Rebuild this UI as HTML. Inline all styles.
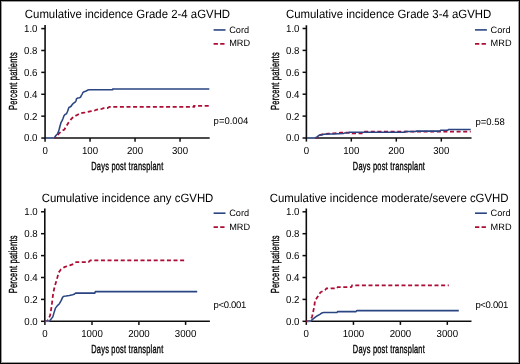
<!DOCTYPE html>
<html><head><meta charset="utf-8"><style>
html,body{margin:0;padding:0;background:#fff;}
body{width:520px;height:364px;overflow:hidden;}
svg{display:block;text-rendering:geometricPrecision;}
text{font-family:"Liberation Sans", sans-serif;fill:#000;}
</style></head><body>
<svg width="520" height="364" viewBox="0 0 520 364">
<defs><filter id="soft" x="-2%" y="-2%" width="104%" height="104%"><feGaussianBlur stdDeviation="0.25"/></filter></defs>
<rect x="0" y="0" width="520" height="364" fill="#fff"/>
<g filter="url(#soft)">
<text transform="translate(127.45,18.0) scale(0.95,1)" font-size="12" text-anchor="middle">Cumulative incidence Grade 2-4 aGVHD</text>
<line x1="41.27" y1="138.05" x2="45.07" y2="138.05" stroke="#111" stroke-width="1.5"/>
<text transform="translate(37.47,141.45) scale(0.95,1)" font-size="10.2" text-anchor="end">0.0</text>
<line x1="41.27" y1="116.16" x2="45.07" y2="116.16" stroke="#111" stroke-width="1.5"/>
<text transform="translate(37.47,119.56) scale(0.95,1)" font-size="10.2" text-anchor="end">0.2</text>
<line x1="41.27" y1="94.27" x2="45.07" y2="94.27" stroke="#111" stroke-width="1.5"/>
<text transform="translate(37.47,97.67) scale(0.95,1)" font-size="10.2" text-anchor="end">0.4</text>
<line x1="41.27" y1="72.38" x2="45.07" y2="72.38" stroke="#111" stroke-width="1.5"/>
<text transform="translate(37.47,75.78) scale(0.95,1)" font-size="10.2" text-anchor="end">0.6</text>
<line x1="41.27" y1="50.49" x2="45.07" y2="50.49" stroke="#111" stroke-width="1.5"/>
<text transform="translate(37.47,53.89) scale(0.95,1)" font-size="10.2" text-anchor="end">0.8</text>
<line x1="41.27" y1="28.60" x2="45.07" y2="28.60" stroke="#111" stroke-width="1.5"/>
<text transform="translate(37.47,32.00) scale(0.95,1)" font-size="10.2" text-anchor="end">1.0</text>
<line x1="45.07" y1="138.05" x2="45.07" y2="141.65" stroke="#111" stroke-width="1.5"/>
<text transform="translate(45.07,153.95) scale(0.95,1)" font-size="10.2" text-anchor="middle">0</text>
<line x1="90.05" y1="138.05" x2="90.05" y2="141.65" stroke="#111" stroke-width="1.5"/>
<text transform="translate(90.05,153.95) scale(0.95,1)" font-size="10.2" text-anchor="middle">100</text>
<line x1="135.05" y1="138.05" x2="135.05" y2="141.65" stroke="#111" stroke-width="1.5"/>
<text transform="translate(135.05,153.95) scale(0.95,1)" font-size="10.2" text-anchor="middle">200</text>
<line x1="180.05" y1="138.05" x2="180.05" y2="141.65" stroke="#111" stroke-width="1.5"/>
<text transform="translate(180.05,153.95) scale(0.95,1)" font-size="10.2" text-anchor="middle">300</text>
<path d="M45.07,25.00 V138.05 H209.70" fill="none" stroke="#111" stroke-width="1.6"/>
<text transform="translate(127.38,169.65) scale(0.636,1)" font-size="11.7" letter-spacing="0.35" text-anchor="middle" stroke="#000" stroke-width="0.35">Days post transplant</text>
<text transform="translate(16.90,81.05) rotate(-90) scale(0.645,1)" font-size="11.7" letter-spacing="0.35" text-anchor="middle" stroke="#000" stroke-width="0.35">Percent patients</text>
<polyline points="52.50,138.00 55.60,137.60 57.40,135.60 59.40,133.00 62.50,130.50 64.40,129.50 66.30,126.20 68.75,122.30 70.60,119.80 72.30,118.00 74.40,116.10 76.40,115.40 78.50,114.20 80.20,113.30 82.50,112.90 85.20,112.50 90.00,111.40 94.80,110.50 96.20,109.80 99.60,109.10 101.60,109.00 103.50,108.20 107.40,108.10 108.80,107.30 109.50,106.90 194.00,106.90 194.00,105.90 209.30,105.90" fill="none" stroke="#ad0a32" stroke-width="1.75" stroke-dasharray="4,2.6"/>
<polyline points="54.30,137.80 55.80,135.60 57.20,134.30 58.20,132.40 59.10,129.50 60.10,125.70 61.10,122.30 62.00,120.90 63.00,118.50 64.00,115.80 65.10,114.40 66.50,113.70 67.50,111.50 68.20,109.40 68.90,107.40 69.90,107.00 71.30,106.00 72.30,104.30 74.00,102.90 75.40,101.90 76.10,100.50 76.50,98.80 77.50,98.10 79.50,97.75 80.60,97.10 81.20,95.70 82.10,94.30 82.80,92.70 84.20,91.70 86.20,91.00 88.10,89.90 89.00,89.77 112.70,89.77 112.70,89.08 209.30,89.08" fill="none" stroke="#2a4582" stroke-width="1.55" stroke-linejoin="round"/>
<line x1="45.87" y1="138.05" x2="54.30" y2="138.05" stroke="#4f6ea6" stroke-width="1.5"/>
<line x1="213.60" y1="29.95" x2="225.50" y2="29.95" stroke="#2a4582" stroke-width="1.6"/>
<text x="229.20" y="33.15" font-size="9.2">Cord</text>
<line x1="213.60" y1="43.85" x2="224.60" y2="43.85" stroke="#ad0a32" stroke-width="1.7" stroke-dasharray="4.3,2.3"/>
<text x="229.20" y="46.45" font-size="9.2">MRD</text>
<text x="213.60" y="124.40" font-size="9.5">p=0.004</text>
<text transform="translate(388.6,18.0) scale(0.95,1)" font-size="12" text-anchor="middle">Cumulative incidence Grade 3-4 aGVHD</text>
<line x1="302.60" y1="138.00" x2="306.40" y2="138.00" stroke="#111" stroke-width="1.5"/>
<text transform="translate(299.50,141.40) scale(0.95,1)" font-size="10.2" text-anchor="end">0.0</text>
<line x1="302.60" y1="116.10" x2="306.40" y2="116.10" stroke="#111" stroke-width="1.5"/>
<text transform="translate(299.50,119.50) scale(0.95,1)" font-size="10.2" text-anchor="end">0.2</text>
<line x1="302.60" y1="94.20" x2="306.40" y2="94.20" stroke="#111" stroke-width="1.5"/>
<text transform="translate(299.50,97.60) scale(0.95,1)" font-size="10.2" text-anchor="end">0.4</text>
<line x1="302.60" y1="72.30" x2="306.40" y2="72.30" stroke="#111" stroke-width="1.5"/>
<text transform="translate(299.50,75.70) scale(0.95,1)" font-size="10.2" text-anchor="end">0.6</text>
<line x1="302.60" y1="50.40" x2="306.40" y2="50.40" stroke="#111" stroke-width="1.5"/>
<text transform="translate(299.50,53.80) scale(0.95,1)" font-size="10.2" text-anchor="end">0.8</text>
<line x1="302.60" y1="28.50" x2="306.40" y2="28.50" stroke="#111" stroke-width="1.5"/>
<text transform="translate(299.50,31.90) scale(0.95,1)" font-size="10.2" text-anchor="end">1.0</text>
<line x1="306.40" y1="138.00" x2="306.40" y2="141.60" stroke="#111" stroke-width="1.5"/>
<text transform="translate(306.40,153.90) scale(0.95,1)" font-size="10.2" text-anchor="middle">0</text>
<line x1="351.30" y1="138.00" x2="351.30" y2="141.60" stroke="#111" stroke-width="1.5"/>
<text transform="translate(351.30,153.90) scale(0.95,1)" font-size="10.2" text-anchor="middle">100</text>
<line x1="396.30" y1="138.00" x2="396.30" y2="141.60" stroke="#111" stroke-width="1.5"/>
<text transform="translate(396.30,153.90) scale(0.95,1)" font-size="10.2" text-anchor="middle">200</text>
<line x1="441.30" y1="138.00" x2="441.30" y2="141.60" stroke="#111" stroke-width="1.5"/>
<text transform="translate(441.30,153.90) scale(0.95,1)" font-size="10.2" text-anchor="middle">300</text>
<path d="M306.40,25.30 V138.00 H471.50" fill="none" stroke="#111" stroke-width="1.6"/>
<text transform="translate(388.95,169.60) scale(0.636,1)" font-size="11.7" letter-spacing="0.35" text-anchor="middle" stroke="#000" stroke-width="0.35">Days post transplant</text>
<text transform="translate(279.00,81.00) rotate(-90) scale(0.645,1)" font-size="11.7" letter-spacing="0.35" text-anchor="middle" stroke="#000" stroke-width="0.35">Percent patients</text>
<polyline points="314.50,138.00 317.30,137.80 318.10,135.50 319.50,135.20 323.10,134.20 328.80,133.60 334.20,133.40 340.50,132.60 351.00,132.60 352.00,133.30 363.00,133.30 363.80,131.70 470.70,131.70" fill="none" stroke="#ad0a32" stroke-width="1.75" stroke-dasharray="4,2.6"/>
<polyline points="315.40,137.70 317.70,136.70 318.30,135.80 319.60,135.10 321.50,134.90 323.10,134.50 323.80,134.25 328.40,134.10 333.00,133.90 338.20,133.70 343.50,133.50 344.60,132.90 349.20,132.80 349.20,132.20 405.00,132.20 405.00,131.50 416.00,131.50 416.00,131.10 440.00,131.10 440.60,130.20 447.80,130.20 448.40,129.50 470.70,129.50" fill="none" stroke="#2a4582" stroke-width="1.55" stroke-linejoin="round"/>
<line x1="307.20" y1="138.00" x2="315.40" y2="138.00" stroke="#4f6ea6" stroke-width="1.5"/>
<line x1="475.00" y1="29.90" x2="486.90" y2="29.90" stroke="#2a4582" stroke-width="1.6"/>
<text x="490.60" y="33.10" font-size="9.2">Cord</text>
<line x1="475.00" y1="43.80" x2="486.00" y2="43.80" stroke="#ad0a32" stroke-width="1.7" stroke-dasharray="4.3,2.3"/>
<text x="490.60" y="46.40" font-size="9.2">MRD</text>
<text x="475.40" y="124.50" font-size="9.5">p=0.58</text>
<text transform="translate(127.5,202.0) scale(0.95,1)" font-size="12" text-anchor="middle">Cumulative incidence any cGVHD</text>
<line x1="41.00" y1="321.30" x2="44.80" y2="321.30" stroke="#111" stroke-width="1.5"/>
<text transform="translate(37.75,324.70) scale(0.95,1)" font-size="10.2" text-anchor="end">0.0</text>
<line x1="41.00" y1="299.40" x2="44.80" y2="299.40" stroke="#111" stroke-width="1.5"/>
<text transform="translate(37.75,302.80) scale(0.95,1)" font-size="10.2" text-anchor="end">0.2</text>
<line x1="41.00" y1="277.50" x2="44.80" y2="277.50" stroke="#111" stroke-width="1.5"/>
<text transform="translate(37.75,280.90) scale(0.95,1)" font-size="10.2" text-anchor="end">0.4</text>
<line x1="41.00" y1="255.60" x2="44.80" y2="255.60" stroke="#111" stroke-width="1.5"/>
<text transform="translate(37.75,259.00) scale(0.95,1)" font-size="10.2" text-anchor="end">0.6</text>
<line x1="41.00" y1="233.70" x2="44.80" y2="233.70" stroke="#111" stroke-width="1.5"/>
<text transform="translate(37.75,237.10) scale(0.95,1)" font-size="10.2" text-anchor="end">0.8</text>
<line x1="41.00" y1="211.80" x2="44.80" y2="211.80" stroke="#111" stroke-width="1.5"/>
<text transform="translate(37.75,215.20) scale(0.95,1)" font-size="10.2" text-anchor="end">1.0</text>
<line x1="44.90" y1="321.30" x2="44.90" y2="324.90" stroke="#111" stroke-width="1.5"/>
<text transform="translate(44.90,337.20) scale(0.95,1)" font-size="10.2" text-anchor="middle">0</text>
<line x1="92.00" y1="321.30" x2="92.00" y2="324.90" stroke="#111" stroke-width="1.5"/>
<text transform="translate(92.00,337.20) scale(0.95,1)" font-size="10.2" text-anchor="middle">1000</text>
<line x1="138.90" y1="321.30" x2="138.90" y2="324.90" stroke="#111" stroke-width="1.5"/>
<text transform="translate(138.90,337.20) scale(0.95,1)" font-size="10.2" text-anchor="middle">2000</text>
<line x1="185.60" y1="321.30" x2="185.60" y2="324.90" stroke="#111" stroke-width="1.5"/>
<text transform="translate(185.60,337.20) scale(0.95,1)" font-size="10.2" text-anchor="middle">3000</text>
<path d="M44.80,208.40 V321.30 H209.90" fill="none" stroke="#111" stroke-width="1.6"/>
<text transform="translate(127.35,352.90) scale(0.636,1)" font-size="11.7" letter-spacing="0.35" text-anchor="middle" stroke="#000" stroke-width="0.35">Days post transplant</text>
<text transform="translate(16.90,264.30) rotate(-90) scale(0.645,1)" font-size="11.7" letter-spacing="0.35" text-anchor="middle" stroke="#000" stroke-width="0.35">Percent patients</text>
<polyline points="44.80,321.30 47.30,321.00 48.90,318.00 50.00,315.80 50.60,312.50 51.50,307.00 52.20,301.50 52.90,295.50 53.90,290.00 54.90,285.80 57.10,278.60 58.60,272.60 61.00,269.30 64.80,266.90 69.80,265.40 73.70,263.90 76.20,262.00 88.50,262.00 90.40,260.30 184.80,260.30" fill="none" stroke="#ad0a32" stroke-width="1.75" stroke-dasharray="4,2.6"/>
<polyline points="49.50,320.90 51.10,319.10 52.80,316.90 54.40,311.40 55.50,308.10 57.20,305.90 59.40,303.70 61.00,300.90 62.70,297.10 63.80,296.30 66.00,296.00 69.30,295.40 72.60,294.70 74.00,294.30 75.60,293.10 94.90,293.10 95.30,291.60 197.20,291.60" fill="none" stroke="#2a4582" stroke-width="1.55" stroke-linejoin="round"/>
<line x1="45.60" y1="321.30" x2="49.50" y2="321.30" stroke="#4f6ea6" stroke-width="1.5"/>
<line x1="213.60" y1="213.20" x2="225.50" y2="213.20" stroke="#2a4582" stroke-width="1.6"/>
<text x="229.20" y="216.40" font-size="9.2">Cord</text>
<line x1="213.60" y1="227.10" x2="224.60" y2="227.10" stroke="#ad0a32" stroke-width="1.7" stroke-dasharray="4.3,2.3"/>
<text x="229.20" y="229.70" font-size="9.2">MRD</text>
<text x="213.50" y="308.20" font-size="9.5" letter-spacing="-0.3">p&lt;0.001</text>
<text transform="translate(389.1,202.0) scale(0.95,1)" font-size="12" text-anchor="middle">Cumulative incidence moderate/severe cGVHD</text>
<line x1="302.50" y1="321.30" x2="306.30" y2="321.30" stroke="#111" stroke-width="1.5"/>
<text transform="translate(299.50,324.70) scale(0.95,1)" font-size="10.2" text-anchor="end">0.0</text>
<line x1="302.50" y1="299.40" x2="306.30" y2="299.40" stroke="#111" stroke-width="1.5"/>
<text transform="translate(299.50,302.80) scale(0.95,1)" font-size="10.2" text-anchor="end">0.2</text>
<line x1="302.50" y1="277.50" x2="306.30" y2="277.50" stroke="#111" stroke-width="1.5"/>
<text transform="translate(299.50,280.90) scale(0.95,1)" font-size="10.2" text-anchor="end">0.4</text>
<line x1="302.50" y1="255.60" x2="306.30" y2="255.60" stroke="#111" stroke-width="1.5"/>
<text transform="translate(299.50,259.00) scale(0.95,1)" font-size="10.2" text-anchor="end">0.6</text>
<line x1="302.50" y1="233.70" x2="306.30" y2="233.70" stroke="#111" stroke-width="1.5"/>
<text transform="translate(299.50,237.10) scale(0.95,1)" font-size="10.2" text-anchor="end">0.8</text>
<line x1="302.50" y1="211.80" x2="306.30" y2="211.80" stroke="#111" stroke-width="1.5"/>
<text transform="translate(299.50,215.20) scale(0.95,1)" font-size="10.2" text-anchor="end">1.0</text>
<line x1="306.30" y1="321.30" x2="306.30" y2="324.90" stroke="#111" stroke-width="1.5"/>
<text transform="translate(306.30,337.20) scale(0.95,1)" font-size="10.2" text-anchor="middle">0</text>
<line x1="353.45" y1="321.30" x2="353.45" y2="324.90" stroke="#111" stroke-width="1.5"/>
<text transform="translate(353.45,337.20) scale(0.95,1)" font-size="10.2" text-anchor="middle">1000</text>
<line x1="400.40" y1="321.30" x2="400.40" y2="324.90" stroke="#111" stroke-width="1.5"/>
<text transform="translate(400.40,337.20) scale(0.95,1)" font-size="10.2" text-anchor="middle">2000</text>
<line x1="447.30" y1="321.30" x2="447.30" y2="324.90" stroke="#111" stroke-width="1.5"/>
<text transform="translate(447.30,337.20) scale(0.95,1)" font-size="10.2" text-anchor="middle">3000</text>
<path d="M306.30,208.40 V321.30 H471.50" fill="none" stroke="#111" stroke-width="1.6"/>
<text transform="translate(388.90,352.90) scale(0.636,1)" font-size="11.7" letter-spacing="0.35" text-anchor="middle" stroke="#000" stroke-width="0.35">Days post transplant</text>
<text transform="translate(279.00,264.30) rotate(-90) scale(0.645,1)" font-size="11.7" letter-spacing="0.35" text-anchor="middle" stroke="#000" stroke-width="0.35">Percent patients</text>
<polyline points="306.30,321.30 309.60,321.10 310.80,319.40 312.10,316.50 312.90,313.20 313.70,309.10 314.50,305.00 314.90,301.10 315.80,299.60 317.30,297.30 318.80,295.00 320.40,292.30 322.70,291.20 325.00,290.00 326.50,288.30 336.90,288.30 337.70,287.20 351.50,287.00 352.10,285.30 448.80,285.30" fill="none" stroke="#ad0a32" stroke-width="1.75" stroke-dasharray="4,2.6"/>
<polyline points="310.80,321.10 312.50,319.40 315.00,317.40 317.40,315.70 319.90,314.40 321.90,312.90 323.60,312.40 337.00,312.40 337.70,311.60 356.10,311.60 356.90,310.60 458.80,310.60" fill="none" stroke="#2a4582" stroke-width="1.55" stroke-linejoin="round"/>
<line x1="307.10" y1="321.30" x2="310.80" y2="321.30" stroke="#4f6ea6" stroke-width="1.5"/>
<line x1="475.00" y1="213.20" x2="486.90" y2="213.20" stroke="#2a4582" stroke-width="1.6"/>
<text x="490.60" y="216.40" font-size="9.2">Cord</text>
<line x1="475.00" y1="227.10" x2="486.00" y2="227.10" stroke="#ad0a32" stroke-width="1.7" stroke-dasharray="4.3,2.3"/>
<text x="490.60" y="229.70" font-size="9.2">MRD</text>
<text x="475.40" y="308.20" font-size="9.5" letter-spacing="-0.3">p&lt;0.001</text>
</g>
<rect x="0.5" y="0.5" width="519" height="363" fill="none" stroke="#000" stroke-width="1"/>
<rect x="1.5" y="1.5" width="517" height="361" fill="none" stroke="#9a9a9a" stroke-width="1"/>
</svg>
</body></html>
